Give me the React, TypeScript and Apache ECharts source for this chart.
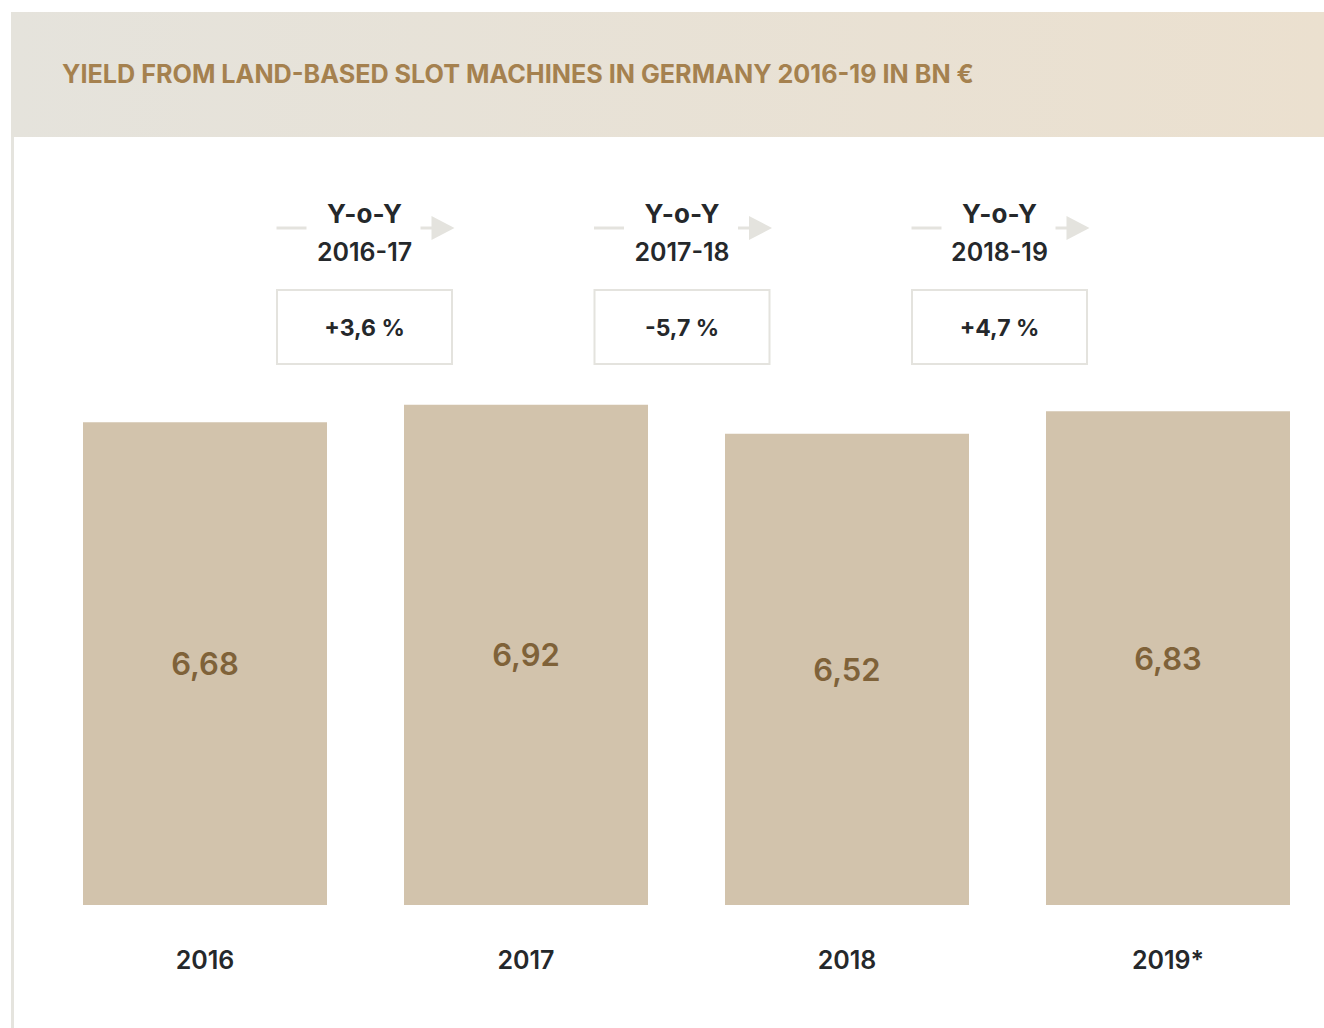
import React, { useEffect, useRef } from "react";
import * as echarts from "echarts";

const title = "YIELD FROM LAND-BASED SLOT MACHINES IN GERMANY 2016-19 IN BN €";
const categories = ["2016", "2017", "2018", "2019*"];
const values = [6.68, 6.92, 6.52, 6.83];
const yoyPeriods = ["2016-17", "2017-18", "2018-19"];
const yoyChanges = ["+3,6 %", "-5,7 %", "+4,7 %"];

const FONT = "Inter, 'Noto Sans', sans-serif";

function yoyGraphic(i: number) {
  const cx = 364.5 + i * 317.5;
  const gray = "#e4e3de";
  return {
    type: "group",
    children: [
      { type: "line", shape: { x1: cx - 88, y1: 228, x2: cx - 58, y2: 228 }, style: { stroke: gray, lineWidth: 3 } },
      { type: "line", shape: { x1: cx + 56, y1: 228, x2: cx + 70, y2: 228 }, style: { stroke: gray, lineWidth: 3 } },
      { type: "polygon", shape: { points: [[cx + 67, 216], [cx + 90, 228], [cx + 67, 240]] }, style: { fill: gray } },
      {
        type: "text", x: cx, y: 213,
        style: { text: "Y-o-Y", fill: "#25282b", font: `700 26px ${FONT}`, align: "center", verticalAlign: "middle" },
      },
      {
        type: "text", x: cx, y: 252,
        style: { text: yoyPeriods[i], fill: "#25282b", font: `600 25px ${FONT}`, align: "center", verticalAlign: "middle" },
      },
      {
        type: "rect", shape: { x: cx - 87.5, y: 290, width: 175, height: 74 },
        style: { fill: "#ffffff", stroke: gray, lineWidth: 2 },
      },
      {
        type: "text", x: cx, y: 328,
        style: { text: yoyChanges[i], fill: "#25282b", font: `700 23px ${FONT}`, align: "center", verticalAlign: "middle" },
      },
    ],
  };
}

export default function App() {
  const ref = useRef<HTMLDivElement>(null);
  useEffect(() => {
    if (!ref.current) return;
    const chart = echarts.init(ref.current, null, { renderer: "svg" });
    chart.setOption({
      animation: false,
      backgroundColor: "#ffffff",
      grid: { left: 44.5, width: 1284, top: 399, bottom: 123 },
      xAxis: {
        type: "category",
        data: categories,
        axisLine: { show: false },
        axisTick: { show: false },
        axisLabel: { margin: 42, color: "#25282b", fontSize: 25, fontWeight: 600, fontFamily: FONT },
      },
      yAxis: { type: "value", min: 0, max: 7, show: false, splitLine: { show: false } },
      series: [
        {
          type: "bar",
          data: values,
          barWidth: 244,
          itemStyle: { color: "#d2c3ac" },
          label: {
            show: true,
            position: "inside",
            formatter: (p: any) => String(p.value.toFixed(2)).replace(".", ","),
            color: "#7f6239",
            fontSize: 31,
            fontWeight: 600,
            fontFamily: FONT,
          },
        },
      ],
      graphic: [
        {
          type: "rect",
          shape: { x: 11, y: 12, width: 1313, height: 125 },
          style: {
            fill: new echarts.graphic.LinearGradient(0, 0, 1, 0, [
              { offset: 0, color: "#e5e3dc" },
              { offset: 1, color: "#ebe0cf" },
            ]),
          },
        },
        { type: "rect", shape: { x: 11, y: 137, width: 3, height: 891 }, style: { fill: "#e5e4de" } },
        {
          type: "text", x: 62, y: 74,
          style: { text: title, fill: "#a5814f", font: `700 25.2px ${FONT}`, verticalAlign: "middle" },
        },
        ...yoyPeriods.map((_, i) => yoyGraphic(i)),
      ],
    });
    return () => chart.dispose();
  }, []);
  return (
    <div style={{ position: "absolute", left: 0, top: 0, width: 1324, height: 1028, overflow: "hidden", background: "#fff" }}>
      <div ref={ref} style={{ position: "absolute", left: 0, top: 0, width: 1340, height: 1028 }} />
    </div>
  );
}
